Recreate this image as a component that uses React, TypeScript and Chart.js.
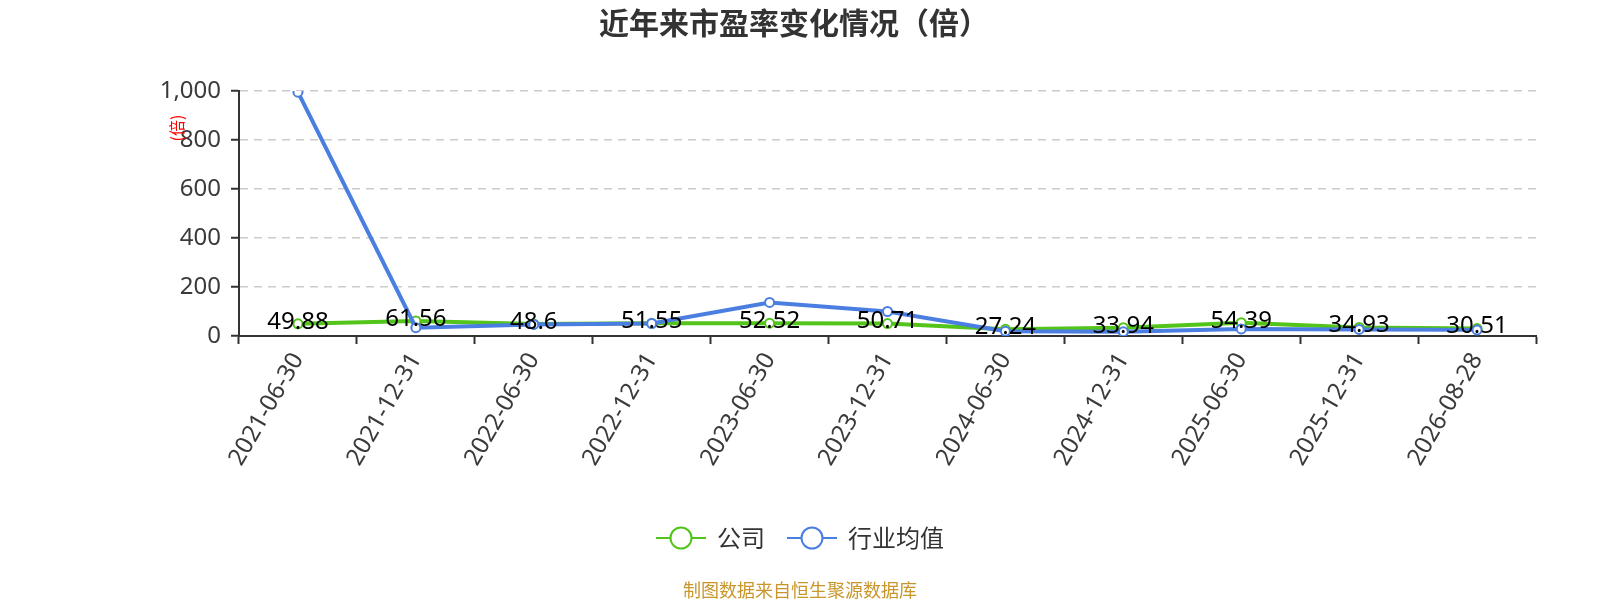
import React, { useEffect, useRef } from "react";
import { Chart, registerables } from "chart.js";

Chart.register(...registerables);

const categories = [
  "2021-06-30",
  "2021-12-31",
  "2022-06-30",
  "2022-12-31",
  "2023-06-30",
  "2023-12-31",
  "2024-06-30",
  "2024-12-31",
  "2025-06-30",
  "2025-12-31",
  "2026-08-28",
];
const companyPE = [49.88, 61.56, 48.6, 51.55, 52.52, 50.71, 27.24, 33.94, 54.39, 34.93, 30.51];
const industryPE = [995, 34, 47, 51, 137, 100, 19, 17, 29, 27, 25];
const seriesNames = ["公司", "行业均值"];
const titleText = "近年来市盈率变化情况（倍）";
const yAxisName = "(倍)";
const sourceText = "制图数据来自恒生聚源数据库";

const GREEN = "#52c41a";
const BLUE = "#4a7ee0";
const FONT = '"Noto Sans", "Noto Sans CJK SC", sans-serif';
const CJK = '"Noto Sans CJK SC", "Noto Sans", sans-serif';

const decorPlugin = {
  id: "decor",
  afterDatasetsDraw(chart: any) {
    const ctx = chart.ctx;
    const meta = chart.getDatasetMeta(0);
    ctx.save();
    ctx.font = `24px ${FONT}`;
    ctx.fillStyle = "#000";
    ctx.textAlign = "center";
    ctx.textBaseline = "middle";
    meta.data.forEach((pt: any, i: number) => {
      ctx.fillText(String(companyPE[i]), pt.x, pt.y - 2);
    });
    ctx.restore();
  },
  afterDraw(chart: any) {
    const ctx = chart.ctx;
    const W = chart.width;
    const area = chart.chartArea;
    ctx.save();
    // title
    ctx.font = `bold 30px ${CJK}`;
    ctx.fillStyle = "#333";
    ctx.textAlign = "center";
    ctx.textBaseline = "middle";
    ctx.fillText(titleText, W / 2 - 6, 23);

    // y axis name
    ctx.save();
    ctx.translate(area.left - 62, area.top + 37);
    ctx.rotate(-Math.PI / 2);
    ctx.font = `16px ${CJK}`;
    ctx.fillStyle = "#ff0000";
    ctx.textAlign = "center";
    ctx.textBaseline = "middle";
    ctx.fillText(yAxisName, 0, 0);
    ctx.restore();

    // legend
    const colors = [GREEN, BLUE];
    ctx.font = `24px ${CJK}`;
    const lineW = 50;
    const gapText = 11;
    const gapItem = 22;
    const widths = seriesNames.map((n) => lineW + gapText + ctx.measureText(n).width);
    const total = widths.reduce((a, b) => a + b, 0) + gapItem * (seriesNames.length - 1);
    let x = W / 2 - total / 2;
    const ly = 538;
    seriesNames.forEach((n, i) => {
      ctx.strokeStyle = colors[i];
      ctx.lineWidth = 2;
      ctx.beginPath();
      ctx.moveTo(x, ly);
      ctx.lineTo(x + lineW, ly);
      ctx.stroke();
      ctx.beginPath();
      ctx.arc(x + lineW / 2, ly, 10.5, 0, Math.PI * 2);
      ctx.fillStyle = "#fff";
      ctx.fill();
      ctx.stroke();
      ctx.fillStyle = "#333";
      ctx.textAlign = "left";
      ctx.textBaseline = "middle";
      ctx.fillText(n, x + lineW + gapText, ly);
      x += widths[i] + gapItem;
    });

    // footer
    ctx.font = `18px ${CJK}`;
    ctx.fillStyle = "#c8962a";
    ctx.textAlign = "center";
    ctx.textBaseline = "middle";
    ctx.fillText(sourceText, W / 2, 590);
    ctx.restore();
  },
};

export default function App() {
  const ref = useRef<HTMLCanvasElement | null>(null);
  useEffect(() => {
    document.body.style.margin = "0";
    const canvas = ref.current;
    if (!canvas) return;
    const chart = new Chart(canvas, {
      type: "line",
      data: {
        labels: categories,
        datasets: [
          {
            label: seriesNames[0],
            data: companyPE,
            borderColor: GREEN,
            backgroundColor: "#fff",
            borderWidth: 4,
            pointRadius: 4.5,
            pointBorderWidth: 2,
            pointBackgroundColor: "#fff",
            pointBorderColor: GREEN,
            tension: 0,
            order: 1,
          },
          {
            label: seriesNames[1],
            data: industryPE,
            borderColor: BLUE,
            backgroundColor: "#fff",
            borderWidth: 4,
            pointRadius: 4.5,
            pointBorderWidth: 2,
            pointBackgroundColor: "#fff",
            pointBorderColor: BLUE,
            tension: 0,
            order: 0,
          },
        ],
      },
      options: {
        responsive: false,
        animation: false,
        devicePixelRatio: 1,
        layout: { padding: { top: 91, right: 64, bottom: 0, left: 0 } },
        plugins: {
          legend: { display: false },
          title: { display: false },
          tooltip: { enabled: false },
        },
        scales: {
          x: {
            type: "category",
            offset: true,
            grid: {
              display: true,
              offset: true,
              drawOnChartArea: false,
              drawTicks: true,
              tickLength: 8,
              tickColor: "#333",
              tickWidth: 2,
            },
            border: { display: true, color: "#333", width: 2 },
            ticks: {
              autoSkip: false,
              maxRotation: 60,
              minRotation: 60,
              padding: 4,
              color: "#3a3a3a",
              font: { family: FONT, size: 24 },
            },
            afterFit: (scale: any) => {
              scale.height = 264;
            },
          },
          y: {
            min: 0,
            max: 1000,
            ticks: {
              stepSize: 200,
              padding: 10,
              color: "#3a3a3a",
              font: { family: FONT, size: 24 },
              callback: (v: any) => Number(v).toLocaleString("en-US"),
            },
            grid: {
              color: "#cccccc",
              lineWidth: 1.5,
              drawTicks: true,
              tickLength: 8,
              tickColor: "#333",
              tickWidth: 2,
            },
            border: { display: true, color: "#333", width: 2, dash: [8, 6] },
            afterFit: (scale: any) => {
              scale.width = 239;
            },
          },
        },
      },
      plugins: [decorPlugin],
    } as any);
    return () => chart.destroy();
  }, []);
  return (
    <div style={{ width: 1600, height: 600 }}>
      <canvas ref={ref} width={1600} height={600} style={{ display: "block" }} />
    </div>
  );
}
